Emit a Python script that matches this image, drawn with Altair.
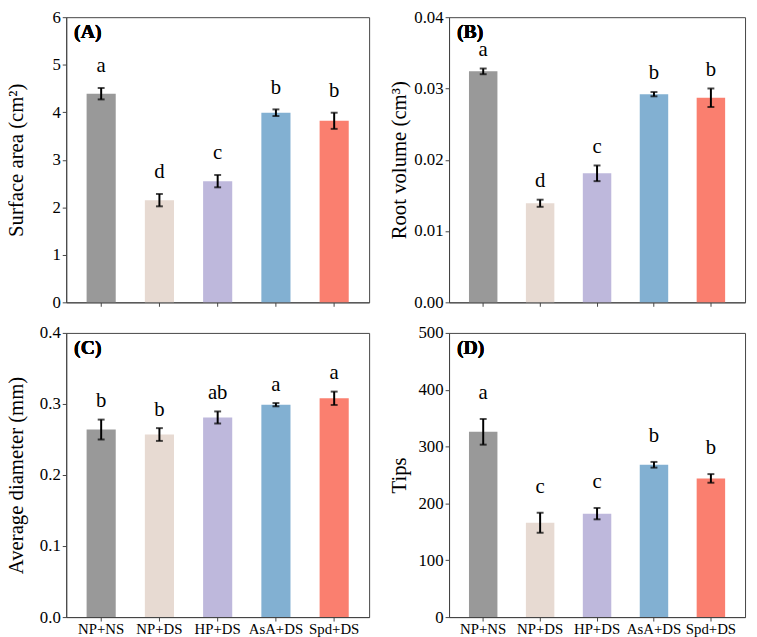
import altair as alt
import pandas as pd

categories = ["NP+NS", "NP+DS", "HP+DS", "AsA+DS", "Spd+DS"]
bar_colors = ["#999999", "#E7DAD2", "#BEB8DC", "#82B0D2", "#FA7F6F"]

sa_mean = [4.39, 2.15, 2.55, 3.99, 3.82]
sa_err = [0.12, 0.13, 0.13, 0.07, 0.17]
sa_letters = ["a", "d", "c", "b", "b"]

rv_mean = [0.0324, 0.0139, 0.0181, 0.0292, 0.0287]
rv_err = [0.0004, 0.0005, 0.0011, 0.0003, 0.0013]
rv_letters = ["a", "d", "c", "b", "b"]

ad_mean = [0.264, 0.257, 0.281, 0.299, 0.308]
ad_err = [0.014, 0.009, 0.0085, 0.0023, 0.0094]
ad_letters = ["b", "b", "ab", "a", "a"]

tp_mean = [326, 166, 182, 268, 244]
tp_err = [22.6, 17.6, 10, 5, 7.6]
tp_letters = ["a", "c", "c", "b", "b"]

FONT = "Liberation Serif"


def panel(mean, err, letters, ymax, yvals, fmt, ytitle, tag, width, height,
          show_x, letter_dy):
    df = pd.DataFrame({
        "cat": categories,
        "mean": mean,
        "lo": [m - e for m, e in zip(mean, err)],
        "hi": [m + e for m, e in zip(mean, err)],
        "letter": letters,
    })
    xaxis = alt.Axis(
        title=None, labels=show_x, ticks=True, tickSize=4, labelAngle=0,
        labelFontSize=15, labelFont=FONT, labelColor="black", labelPadding=1,
        domainColor="#444", tickColor="#444",
    )
    x = alt.X("cat:N", sort=categories, axis=xaxis,
              scale=alt.Scale(paddingInner=0.5, paddingOuter=0.35))
    yscale = alt.Scale(domain=[0, ymax], nice=False, zero=True)
    yaxis = alt.Axis(
        title=ytitle, values=yvals, format=fmt, grid=False, tickSize=4,
        labelFontSize=17, labelFont=FONT, labelColor="black", labelPadding=2,
        titleFont=FONT, titleFontSize=21, titleFontWeight="normal",
        titleColor="black", titleX=-40, titleY=height / 2,
        titleAngle=-90, titleBaseline="bottom", titleAlign="center",
        domainColor="#444", tickColor="#444",
    )
    base = alt.Chart(df)
    bars = base.mark_bar().encode(
        x=x,
        y=alt.Y("mean:Q", scale=yscale, axis=yaxis),
        color=alt.Color("cat:N", scale=alt.Scale(domain=categories, range=bar_colors),
                        legend=None),
    )
    rule = base.mark_rule(color="black", strokeWidth=2).encode(
        x=alt.X("cat:N", sort=categories), y="lo:Q", y2="hi:Q")
    cap_lo = base.mark_tick(color="black", thickness=2, size=7).encode(
        x=alt.X("cat:N", sort=categories), y="lo:Q")
    cap_hi = base.mark_tick(color="black", thickness=2, size=7).encode(
        x=alt.X("cat:N", sort=categories), y="hi:Q")
    text = base.mark_text(font=FONT, fontSize=21, baseline="alphabetic",
                          dy=-letter_dy, color="black").encode(
        x=alt.X("cat:N", sort=categories), y="hi:Q", text="letter:N")
    lab = base.mark_text(font=FONT, fontSize=20, fontWeight="bold", align="left",
                         baseline="alphabetic", color="black").encode(
        x=alt.value(8), y=alt.value(21), text=alt.value(tag))
    return alt.layer(bars, rule, cap_lo, cap_hi, text, lab).properties(
        width=width, height=height)


pA = panel(sa_mean, sa_err, sa_letters, 6, [0, 1, 2, 3, 4, 5, 6], "d",
           "Surface area (cm²)", "(A)", 307, 289, False, 16)
pB = panel(rv_mean, rv_err, rv_letters, 0.04, [0, 0.01, 0.02, 0.03, 0.04], ".2f",
           "Root volume (cm³)", "(B)", 300, 289, False, 13)
pC = panel(ad_mean, ad_err, ad_letters, 0.4, [0, 0.1, 0.2, 0.3, 0.4], ".1f",
           "Average diameter (mm)", "(C)", 307, 288, True, 12.5)
pD = panel(tp_mean, tp_err, tp_letters, 500, [0, 100, 200, 300, 400, 500], "d",
           "Tips", "(D)", 300, 288, True, 20)

chart = alt.vconcat(
    alt.hconcat(pA, pB, spacing=18),
    alt.hconcat(pC, pD, spacing=18),
    spacing=12,
).properties(
    padding={"top": -5, "left": -3, "right": 3, "bottom": 5}
).configure_view(stroke="#444", strokeWidth=1)

chart.save("out.html", embed_options={"renderer": "svg", "actions": False})
